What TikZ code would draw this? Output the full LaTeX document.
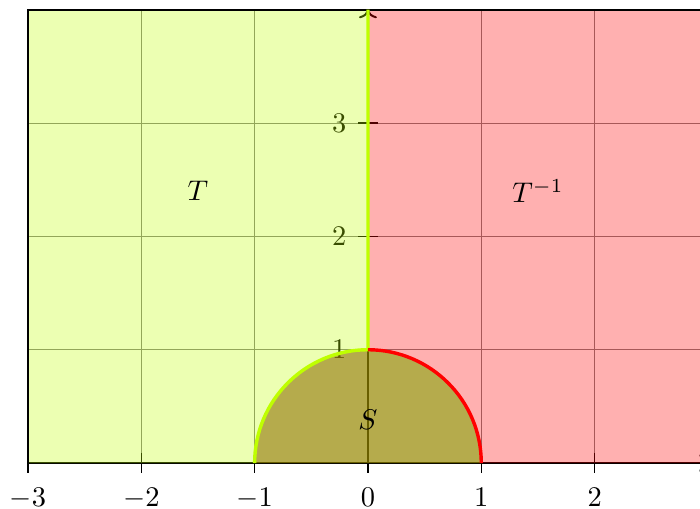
\documentclass[tikz,border=0pt]{standalone}
\usetikzlibrary{arrows.meta}
\definecolor{semicol}{RGB}{149,135,0}
\tikzset{
  gridline/.style={gray, line width=0.4pt},
  axisline/.style={black, line width=0.7pt},
  tickline/.style={black, line width=0.5pt},
  lregion/.style={fill=lime, fill opacity=0.3},
  rregion/.style={fill=red, fill opacity=0.31},
  sregion/.style={fill=semicol, fill opacity=0.7},
  lbound/.style={lime, line width=1.2pt},
  rbound/.style={red, line width=1.2pt},
}
\begin{document}
\begin{tikzpicture}[x=1.4cm,y=1.4cm]
\useasboundingbox (-3.247,-0.397) rectangle (2.93,4.086);
\clip (-3.247,-0.397) rectangle (2.93,4.086);
% grid
\foreach \x in {-3,...,3} { \draw[gridline] (\x,0) -- (\x,4); }
\foreach \y in {0,...,4} { \draw[gridline] (-3,\y) -- (3,\y); }
% axes
\coordinate (xs) at (-3,0);
\coordinate (xe) at (3,0);
\coordinate (ys) at (0,0);
\coordinate (ye) at (0,4);
\draw[axisline,-{To[length=3pt]}] (xs) -- (xe);
\draw[axisline,-{To[length=3pt]}] (ys) -- (ye);
\foreach \x in {-3,...,2} {
  \draw[tickline] (\x,0.09) -- (\x,-0.09) node[below, inner sep=5pt] (xl\x) {$\x$};
}
\foreach \y in {1,2,3} {
  \draw[tickline] (0.09,\y) -- (-0.09,\y) node[left, inner sep=3.8pt] (yl\y) {$\y$};
}
% regions
\fill[lregion] (-3,0) -- (-1,0) arc[start angle=180, end angle=90, radius=1] -- (0,4) -- (-3,4) -- cycle;
\fill[rregion] (0,4) -- (0,1) arc[start angle=90, end angle=0, radius=1] -- (3,0) -- (3,4) -- cycle;
\fill[sregion] (-1,0) arc[start angle=180, end angle=0, radius=1] -- cycle;
% outer border
\draw[axisline] (-3,0) -- (-3,4) -- (3,4);
% boundaries
\draw[lbound] (-1,0) arc[start angle=180, end angle=90, radius=1] -- (0,4);
\draw[rbound] (0,1) arc[start angle=90, end angle=0, radius=1];
% labels
\node (T) at (-1.5,2.4) {$T$};
\node (Tinv) at (1.5,2.4) {$T^{-1}$};
\node (S) at (0,0.38) {$S$};
\end{tikzpicture}
\end{document}
